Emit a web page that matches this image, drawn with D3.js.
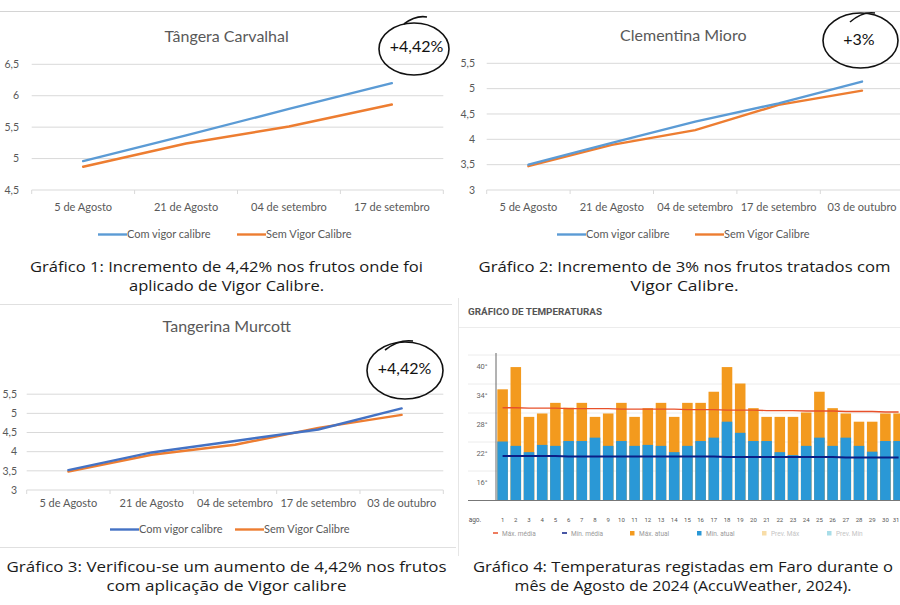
<!DOCTYPE html>
<html><head><meta charset="utf-8">
<script src="https://cdn.jsdelivr.net/npm/d3@7"></script>
<style>
html,body{margin:0;padding:0;background:#fff;}
svg{display:block;}
</style></head>
<body>
<svg id="c" width="900" height="605"></svg>
<script>
// ---------- DATA ----------
const cats1 = ["5 de Agosto", "21 de Agosto", "04 de setembro", "17 de setembro"];
const com1 = [4.96, 5.37, 5.79, 6.20];
const sem1 = [4.87, 5.24, 5.51, 5.86];
const ticks1 = [4.5, 5, 5.5, 6, 6.5];

const cats2 = ["5 de Agosto", "21 de Agosto", "04 de setembro", "17 de setembro", "03 de outubro"];
const com2 = [3.50, 3.93, 4.35, 4.71, 5.14];
const sem2 = [3.47, 3.89, 4.18, 4.68, 4.96];
const ticks2 = [3, 3.5, 4, 4.5, 5, 5.5];

const cats3 = ["5 de Agosto", "21 de Agosto", "04 de setembro", "17 de setembro", "03 de outubro"];
const com3 = [3.52, 3.98, 4.28, 4.58, 5.13];
const sem3 = [3.48, 3.92, 4.18, 4.62, 4.96];
const ticks3 = [3, 3.5, 4, 4.5, 5, 5.5];

const legendNames = ["Com vigor calibre", "Sem Vigor Calibre"];
const titles = ["Tângera Carvalhal", "Clementina Mioro", "Tangerina Murcott"];
const badges = ["+4,42%", "+3%", "+4,42%"];

const days = ["1","2","3","4","5","6","7","8","9","10","11","12","13","14","15","16","17","18","19","20","21","22","23","24","25","26","27","28","29","30","31"];
const maxAtual = [32.9,37.5,27.2,27.9,30.1,29.1,30.1,27.2,27.9,30.1,27.2,29.0,30.1,27.2,30.1,30.1,32.4,37.5,34.1,29.0,27.2,27.2,27.2,28.1,32.4,29.0,27.9,26.2,26.2,27.9,27.9];
const minAtual = [22.1,21.2,19.9,21.4,21.2,22.2,22.2,22.9,21.2,22.2,21.2,21.4,21.2,19.9,21.2,22.2,22.9,26.2,23.9,22.2,22.2,19.9,19.3,21.2,22.9,21.2,22.9,21.2,20.0,22.2,22.2];
const maxMedia = [29.1,29.1,29.0,29.0,29.0,28.9,28.9,28.9,28.9,28.8,28.8,28.8,28.8,28.8,28.7,28.7,28.7,28.6,28.6,28.6,28.5,28.5,28.5,28.4,28.4,28.4,28.3,28.3,28.3,28.2,28.2];
const minMedia = [19.1,19.1,19.1,19.1,19.1,19.0,19.0,19.0,19.0,19.0,19.0,19.0,19.0,19.0,19.0,19.0,19.0,18.9,18.9,18.9,18.9,18.9,18.9,18.9,18.9,18.9,18.8,18.8,18.8,18.8,18.8];
const tempTicks = [16, 22, 28, 34, 40];
const tempGrid = [16, 22, 28, 34, 40];
const tempLegend = ["Máx. média", "Mín. média", "Máx. atual", "Mín. atual", "Prev. Máx", "Prev. Mín"];

const captions = [
  ["Gráfico 1: Incremento de 4,42% nos frutos onde foi", "aplicado de Vigor Calibre."],
  ["Gráfico 2: Incremento de 3% nos frutos tratados com", "Vigor Calibre."],
  ["Gráfico 3: Verificou-se um aumento de 4,42% nos frutos", "com aplicação de Vigor calibre"],
  ["Gráfico 4: Temperaturas registadas em Faro durante o", "mês de Agosto de 2024 (AccuWeather, 2024)."]
];

// ---------- DRAW ----------
const svg = d3.select("#c");
const FONT = "Lato, 'Open Sans', sans-serif";
const GRID = "#d9d9d9", TXT = "#595959";

// separators
svg.append("line").attr("x1",0).attr("x2",900).attr("y1",11.5).attr("y2",11.5).attr("stroke","#d4d4d4").attr("stroke-width",1.2);
svg.append("line").attr("x1",0).attr("x2",452).attr("y1",304.5).attr("y2",304.5).attr("stroke","#e0e0e0").attr("stroke-width",1.2);
svg.append("line").attr("x1",0).attr("x2",456).attr("y1",547.5).attr("y2",547.5).attr("stroke","#e0e0e0").attr("stroke-width",1.2);

function lineChart(o) {
  const g = svg.append("g");
  const x = d3.scaleBand().domain(o.cats).range([o.x0, o.x1]).padding(0);
  const y = d3.scaleLinear().domain([o.ticks[0], o.ticks[o.ticks.length-1]]).range([o.yb, o.yt]);
  const fmt = v => String(v).replace(".", ",");
  g.selectAll(".gr").data(o.ticks).enter().append("line")
    .attr("x1", o.x0).attr("x2", o.x1).attr("y1", d => y(d)).attr("y2", d => y(d))
    .attr("stroke", GRID).attr("stroke-width", 1);
  g.selectAll(".yl").data(o.ticks).enter().append("text")
    .attr("x", o.ylx).attr("y", d => y(d)).attr("dy", "0.35em")
    .attr("text-anchor", "end").attr("font-family", FONT).attr("font-size", 10.5).attr("fill", TXT)
    .text(fmt);
  const bounds = o.cats.map(c => x(c)).concat([o.x1]);
  g.selectAll(".xt").data(bounds).enter().append("line")
    .attr("x1", d => d).attr("x2", d => d).attr("y1", o.yb).attr("y2", o.yb + 4)
    .attr("stroke", GRID);
  g.selectAll(".xl").data(o.cats).enter().append("text")
    .attr("x", d => x(d) + x.bandwidth()/2).attr("y", o.xly)
    .attr("text-anchor", "middle").attr("font-family", FONT).attr("font-size", 11).attr("fill", TXT)
    .text(d => d);
  g.append("text").attr("x", o.tx).attr("y", o.ty).attr("text-anchor", "middle")
    .attr("font-family", FONT).attr("font-size", 16).attr("fill", TXT).text(o.title);
  const ln = d3.line().x((d, i) => x(o.cats[i]) + x.bandwidth()/2).y(d => y(d));
  g.append("path").datum(o.sem).attr("d", ln).attr("fill", "none").attr("stroke", "#ED7D31").attr("stroke-width", 2.4).attr("stroke-linecap","round");
  g.append("path").datum(o.com).attr("d", ln).attr("fill", "none").attr("stroke", o.blue).attr("stroke-width", 2.4).attr("stroke-linecap","round");
  const cols = [o.blue, "#ED7D31"];
  o.leg.forEach((lx, i) => {
    g.append("line").attr("x1", lx).attr("x2", lx + 29).attr("y1", o.legy - 3.5).attr("y2", o.legy - 3.5)
      .attr("stroke", cols[i]).attr("stroke-width", 2.4);
    g.append("text").attr("x", lx + 29).attr("y", o.legy).attr("font-family", FONT).attr("font-size", 11)
      .attr("fill", TXT).text(legendNames[i]);
  });
  const b = o.badge;
  g.append("ellipse").attr("cx", b.cx).attr("cy", b.cy).attr("rx", b.rx).attr("ry", b.ry)
    .attr("fill", "none").attr("stroke", "#111").attr("stroke-width", 1.6);
  g.append("path").attr("d", `M${b.t[0]},${b.t[1]} Q${(b.t[0]+b.t[2])/2},${Math.min(b.t[1],b.t[3])-2} ${b.t[2]},${b.t[3]}`)
    .attr("fill", "none").attr("stroke", "#111").attr("stroke-width", 1.6);
  g.append("text").attr("x", b.tx).attr("y", b.ty).attr("dy", "0.35em").attr("text-anchor", "middle")
    .attr("font-family", FONT).attr("font-size", 16).attr("fill", "#111").text(o.badgeText);
}

lineChart({cats: cats1, com: com1, sem: sem1, ticks: ticks1, x0: 31.7, x1: 443.3, yb: 190, yt: 64.3,
  ylx: 19, xly: 210.5, title: titles[0], tx: 226.7, ty: 41.5, blue: "#5B9BD5", leg: [98, 237], legy: 238,
  badgeText: badges[0], badge: {cx: 414, cy: 49, rx: 35, ry: 26, tx: 416.5, ty: 46.5, t: [404, 24, 427, 17]}});

lineChart({cats: cats2, com: com2, sem: sem2, ticks: ticks2, x0: 486.7, x1: 903.7, yb: 190, yt: 63.3,
  ylx: 475, xly: 210.5, title: titles[1], tx: 683.3, ty: 40.5, blue: "#5B9BD5", leg: [557, 695], legy: 238,
  badgeText: badges[1], badge: {cx: 860.5, cy: 40.5, rx: 37.5, ry: 27.5, tx: 859, ty: 39, t: [850, 22, 875, 13]}});

lineChart({cats: cats3, com: com3, sem: sem3, ticks: ticks3, x0: 26.7, x1: 443.3, yb: 490, yt: 394.2,
  ylx: 17, xly: 507, title: titles[2], tx: 226.7, ty: 332, blue: "#4472C4", leg: [110, 235], legy: 533,
  badgeText: badges[2], badge: {cx: 405, cy: 370.5, rx: 38, ry: 28.5, tx: 404.5, ty: 368.3, t: [385, 350, 413, 341]}});

// ---------- Temperature chart ----------
(function(){
  const g = svg.append("g");
  g.append("line").attr("x1", 458.5).attr("x2", 458.5).attr("y1", 298).attr("y2", 556).attr("stroke", "#e6e6e6");
  g.append("line").attr("x1", 459).attr("x2", 900).attr("y1", 327.5).attr("y2", 327.5).attr("stroke", "#ececec");
  g.append("text").attr("x", 468).attr("y", 314.5).attr("font-family", "Roboto, sans-serif").attr("font-weight", "bold")
    .attr("font-size", 9).attr("fill", "#555").attr("textLength", 134).attr("lengthAdjust", "spacingAndGlyphs")
    .text("GRÁFICO DE TEMPERATURAS");

  const x = d3.scaleBand().domain(days).range([496, 496 + 31 * 13.2]).paddingInner(0.2).paddingOuter(0.1);
  const y = d3.scaleLinear().domain([10, 40]).range([500, 355]);
  g.selectAll(".tg").data(tempGrid).enter().append("line")
    .attr("x1", 468).attr("x2", 900).attr("y1", d => y(d)).attr("y2", d => y(d)).attr("stroke", "#ececec");
  g.selectAll(".ty").data(tempTicks).enter().append("text")
    .attr("x", 482).attr("y", d => y(d) + 14).attr("text-anchor", "middle")
    .attr("font-family", "Roboto, sans-serif").attr("font-size", 7.5).attr("fill", "#666").text(d => d + "°");
  g.selectAll(".bmax").data(maxAtual).enter().append("rect")
    .attr("x", (d, i) => x(days[i])).attr("width", x.bandwidth())
    .attr("y", d => y(d)).attr("height", d => y(10) - y(d)).attr("fill", "#F39A1E");
  g.selectAll(".bmin").data(minAtual).enter().append("rect")
    .attr("x", (d, i) => x(days[i])).attr("width", x.bandwidth())
    .attr("y", d => y(d)).attr("height", d => y(10) - y(d)).attr("fill", "#2A98D6");
  const cx = i => x(days[i]) + x.bandwidth()/2;
  const ln = d3.line().x((d, i) => cx(i)).y(d => y(d));
  g.append("path").datum(maxMedia).attr("d", ln).attr("fill", "none").attr("stroke", "#E8502A").attr("stroke-width", 1.4);
  g.append("path").datum(minMedia).attr("d", ln).attr("fill", "none").attr("stroke", "#0B1E86").attr("stroke-width", 2);
  g.append("line").attr("x1", 496).attr("x2", 496).attr("y1", 353).attr("y2", 500).attr("stroke", "#666");
  g.append("line").attr("x1", 468).attr("x2", 900).attr("y1", 500.5).attr("y2", 500.5).attr("stroke", "#777").attr("stroke-width", 1.2);
  g.append("text").attr("x", 475).attr("y", 521.5).attr("text-anchor", "middle")
    .attr("font-family", "Roboto, sans-serif").attr("font-size", 6.5).attr("fill", "#555").text("ago.");
  g.selectAll(".dl").data(days).enter().append("text")
    .attr("x", (d, i) => i === days.length - 1 ? 899.5 : x(d) + x.bandwidth()/2).attr("y", 521.5)
    .attr("text-anchor", (d, i) => i === days.length - 1 ? "end" : "middle")
    .attr("font-family", "Roboto, sans-serif").attr("font-size", 6).attr("fill", "#555").text(d => d);
  const lx = [493, 562, 630, 697, 762, 827];
  const kind = ["line", "line", "sq", "sq", "sq", "sq"];
  const lc = ["#E8502A", "#0B1E86", "#F39A1E", "#2A98D6", "#F8DDA8", "#A8DDE8"];
  const tc = ["#999", "#999", "#999", "#999", "#c4c4c4", "#c4c4c4"];
  tempLegend.forEach((t, i) => {
    if (kind[i] === "line") g.append("line").attr("x1", lx[i]).attr("x2", lx[i] + 5).attr("y1", 533).attr("y2", 533).attr("stroke", lc[i]).attr("stroke-width", 1.5);
    else g.append("rect").attr("x", lx[i]).attr("y", 531).attr("width", 4.5).attr("height", 4.5).attr("fill", lc[i]);
    g.append("text").attr("x", lx[i] + 9).attr("y", 535.5).attr("font-family", "Roboto, sans-serif")
      .attr("font-size", 6.5).attr("fill", tc[i]).text(t);
  });
})();

// ---------- Captions ----------
const capPos = [
  {cx: 226.5, y: [272, 291], w: [393, 195]},
  {cx: 684.5, y: [272, 291], w: [412, 108]},
  {cx: 226.5, y: [572, 591], w: [440, 240]},
  {cx: 683,   y: [572, 591], w: [420, 337]}
];
captions.forEach((c, k) => {
  c.forEach((line, j) => {
    svg.append("text").attr("x", capPos[k].cx).attr("y", capPos[k].y[j]).attr("text-anchor", "middle")
      .attr("font-family", "'Open Sans', sans-serif").attr("font-size", 15).attr("fill", "#1a1a1a")
      .attr("textLength", capPos[k].w[j]).attr("lengthAdjust", "spacingAndGlyphs").text(line);
  });
});
</script>
</body></html>
